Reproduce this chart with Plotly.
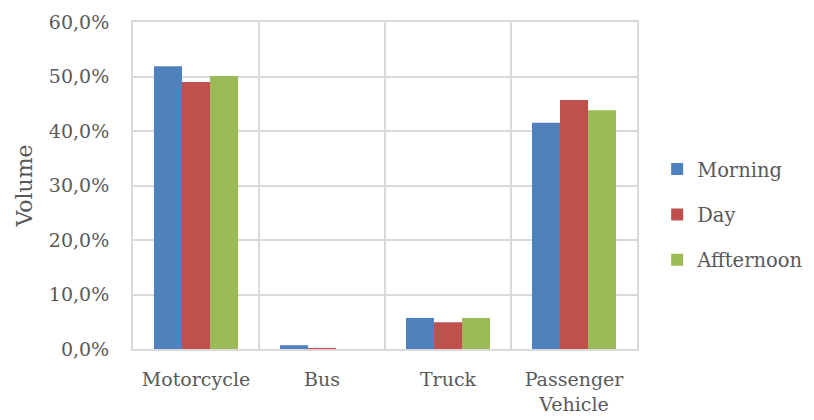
import plotly.graph_objects as go

categories = ["Motorcycle", "Bus", "Truck", "Passenger<br>Vehicle"]
morning = [0.519, 0.007, 0.057, 0.415]
day = [0.490, 0.0005, 0.049, 0.457]
afternoon = [0.501, 0.000, 0.057, 0.438]
series_names = ["Morning", "Day", "Affternoon"]
colors = ["#4F81BD", "#C0504D", "#9BBB59"]

FONT = "DejaVu Serif"
fig = go.Figure()
for name, vals, col in zip(series_names, [morning, day, afternoon], colors):
    fig.add_trace(go.Bar(x=categories, y=vals, name=name, marker_color=col,
                         marker_line_width=0, legendgroup=name))

fig.update_layout(
    width=814, height=420,
    margin=dict(l=133, r=177, t=22, b=71, autoexpand=False),
    paper_bgcolor="white", plot_bgcolor="white",
    separators=",.",
    barmode="group", bargap=0.333, bargroupgap=0,
    font=dict(family=FONT, size=19, color="#595959"),
    showlegend=True,
    legend=dict(x=1.04, xanchor="left", y=0.41, yanchor="middle",
                font=dict(family=FONT, size=19.5, color="#595959"),
                tracegroupgap=17, itemwidth=30),
    xaxis=dict(type="category", tickson="boundaries", showgrid=True,
               gridcolor="#D9D9D9", gridwidth=2, showline=True, linecolor="#D9D9D9",
               linewidth=2, mirror=True, ticks="", ticklabelstandoff=12,
               tickfont=dict(size=19, color="#595959")),
    yaxis=dict(range=[0, 0.6], dtick=0.1, tickformat=".1%", showgrid=True,
               gridcolor="#D9D9D9", gridwidth=2, showline=True, linecolor="#D9D9D9",
               linewidth=2, mirror=True, ticks="", zeroline=False, ticklabelstandoff=18,
               tickfont=dict(size=19, color="#595959"),
               title=dict(text="Volume", font=dict(size=22, color="#595959"), standoff=10)),
)
fig.write_html("out.html")
